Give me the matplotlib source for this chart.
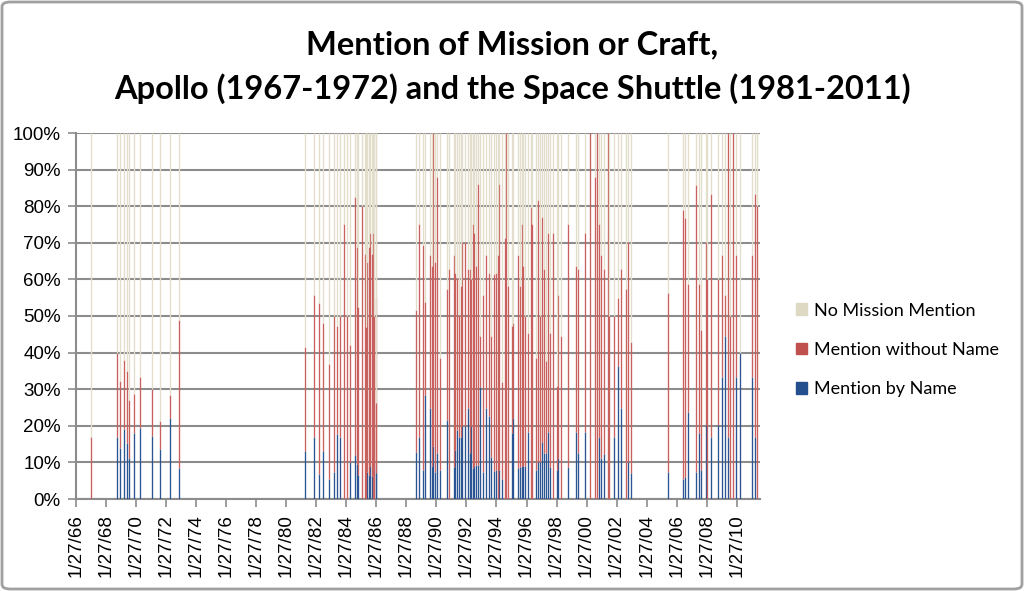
import numpy as np
import matplotlib
matplotlib.use("Agg")
import matplotlib.pyplot as plt
from matplotlib.patches import Patch, FancyBboxPatch

# fecha de cada mision (anio decimal) y porcentajes
anios = [
    1967.07, 1968.80, 1969.00, 1969.25, 1969.45, 1969.58, 1969.96, 1970.30,
    1971.15, 1971.65, 1972.33, 1972.96,
    1981.33, 1981.89, 1982.27, 1982.50, 1982.90, 1983.27, 1983.45, 1983.65,
    1983.89, 1984.09, 1984.29, 1984.65, 1984.78, 1984.85, 1985.09, 1985.29,
    1985.36, 1985.47, 1985.58, 1985.67, 1985.78, 1985.87, 1985.93, 1986.02,
    1986.07,
    1988.74, 1988.90, 1989.20, 1989.32, 1989.62, 1989.80, 1989.87, 1989.98,
    1990.10, 1990.29, 1990.78, 1990.89, 1991.22, 1991.33, 1991.45, 1991.58,
    1991.70, 1991.80, 1991.95, 1992.20, 1992.30, 1992.40, 1992.50, 1992.60,
    1992.70, 1992.85, 1992.98, 1993.20, 1993.40, 1993.55, 1993.70, 1993.90,
    1994.05, 1994.18, 1994.27, 1994.45, 1994.67, 1994.73, 1994.85, 1995.09,
    1995.18, 1995.51, 1995.67, 1995.78, 1995.87, 1995.98, 1996.15, 1996.35,
    1996.42, 1996.67, 1996.85, 1996.98, 1997.07, 1997.22, 1997.38, 1997.52,
    1997.62, 1997.85, 1998.07, 1998.18, 1998.35, 1998.85, 1999.38, 1999.48,
    1999.95, 2000.30, 2000.60, 2000.78, 2000.87, 2001.05, 2001.25, 2001.52,
    2001.58, 2001.92, 2002.14, 2002.36, 2002.70, 2002.82, 2003.00,
    2005.50, 2006.46, 2006.60, 2006.85, 2007.35, 2007.53, 2007.71, 2008.05,
    2008.10, 2008.35, 2008.80, 2009.10, 2009.28, 2009.48, 2009.62, 2009.84,
    2010.05, 2010.27, 2011.10, 2011.30, 2011.40,
]

# "Mention by Name" (%)
con_nombre = [
    0, 16.9, 14.0, 19.1, 15.2, 11.1, 17.9, 19.3,
    17.3, 13.6, 22.0, 8.4,
    13.2, 16.9, 6.8, 13.2, 5.5, 7.3, 17.8, 16.9,
    0, 0, 10.2, 12.0, 9.6, 6.6, 0, 0,
    0, 7.5, 6.6, 9.1, 6.4, 0, 0, 9.3,
    7.0,
    12.9, 16.9, 7.9, 28.4, 25.0, 9.1, 14.6, 7.5,
    12.7, 7.9, 21.6, 0, 8.7, 13.4, 18.9, 17.0,
    16.9, 20.0, 20.0, 25.0, 12.7, 20.0, 8.4, 9.1,
    9.3, 9.3, 30.7, 7.3, 25.0, 22.8, 11.4, 7.7,
    7.9, 0, 7.9, 5.6, 0, 0, 0, 17.9,
    22.0, 8.4, 8.7, 9.0, 9.0, 9.0, 18.4, 0,
    0, 7.9, 10.2, 10.2, 15.5, 12.7, 12.7, 18.4,
    8.7, 0, 7.9, 11.3, 0, 8.7, 18.4, 12.7,
    18.4, 0, 0, 0, 16.9, 11.1, 12.4, 0,
    0, 16.9, 36.4, 25.0, 0, 10.2, 7.0,
    7.5, 5.5, 6.0, 23.7, 7.5, 17.9, 7.9, 20.2,
    0, 16.9, 20.2, 33.2, 44.6, 16.9, 0, 0,
    33.2, 40.0, 33.2, 16.9, 0,
]

# tope de "Mention without Name" (nombre + sin nombre, %)
tope_mencion = [
    16.9, 39.8, 32.2, 38.0, 35.0, 27.0, 28.7, 33.3,
    30.1, 21.4, 28.4, 48.9,
    41.6, 55.7, 53.5, 48.0, 36.9, 50.0, 47.3, 50.0,
    75.1, 50.0, 42.0, 82.6, 68.9, 52.5, 80.1, 66.9,
    46.9, 64.7, 68.8, 72.8, 66.9, 72.8, 50.0, 54.8,
    26.3,
    51.6, 75.1, 69.4, 53.9, 66.8, 63.7, 100, 64.7,
    87.9, 38.6, 57.4, 62.8, 66.8, 61.8, 60.5, 50.3,
    58.3, 70.3, 70.1, 62.8, 62.8, 60.1, 75.1, 72.8,
    63.7, 86.0, 44.5, 55.7, 66.8, 61.8, 44.6, 61.5,
    61.8, 66.8, 86.0, 31.9, 71.4, 100, 58.3, 47.4,
    48.0, 66.8, 58.3, 75.1, 63.7, 50.1, 45.3, 79.9,
    75.1, 38.6, 81.7, 50.1, 77.1, 62.8, 37.7, 72.8,
    45.4, 72.8, 31.0, 55.7, 44.6, 75.1, 63.7, 62.8,
    72.8, 100, 87.9, 100, 75.1, 66.8, 62.8, 100,
    50.0, 50.0, 54.8, 62.9, 57.4, 70.1, 42.8,
    56.2, 79.0, 76.7, 58.7, 85.8, 58.7, 46.2, 70.1,
    60.1, 83.3, 60.1, 66.8, 55.7, 100, 50.0, 100,
    66.8, 40.0, 66.8, 83.3, 80.0,
]

x = np.array(anios)
azul = np.array(con_nombre) / 100
rojo_tope = np.array(tope_mencion) / 100

c_azul = '#2A5592'
c_rojo = '#C8605D'
c_beige = '#E2DECB'

fig = plt.figure(figsize=(10.24, 5.91), dpi=100)
ax = fig.add_axes([76/1024, 1 - 499/591, (760-76)/1024, (499-133)/591])

# barras apiladas de 1 px: nombre abajo, sin nombre encima, resto hasta 100 %
grosor = 0.95
ax.vlines(x, 0, azul, colors=c_azul, linewidth=grosor, zorder=3)
ax.vlines(x, azul, rojo_tope, colors=c_rojo, linewidth=grosor, zorder=3)
ax.vlines(x, rojo_tope, 1, colors=c_beige, linewidth=grosor, zorder=3)

ax.set_ylim(0, 1)
ax.set_xlim(1966.07, 2011.62)
ax.set_yticks(np.arange(0, 1.01, 0.1))
ax.set_yticklabels([f"{int(round(v*100))}%" for v in np.arange(0, 1.01, 0.1)],
                   fontsize=13.5, family='Liberation Sans')
marcas = [a + 26/365 for a in range(1966, 2011, 2)]
ax.set_xticks(marcas)
ax.set_xticklabels([f"1/27/{a % 100:02d}" for a in range(1966, 2011, 2)],
                   rotation=90, fontsize=13.5, family='Liberation Sans')
ax.tick_params(axis='both', colors='#8C8C8C', labelcolor='black', length=6, width=1.2)
ax.tick_params(axis='y', pad=5)
ax.tick_params(axis='x', pad=5)
ax.grid(axis='y', color='#8C8C8C', linewidth=1.5, zorder=0)
for lado in ['top', 'right']:
    ax.spines[lado].set_visible(False)
for lado in ['left', 'bottom']:
    ax.spines[lado].set_color('#8C8C8C')
    ax.spines[lado].set_linewidth(1.5)

fig.text(0.5, 1 - 45/591, "Mention of Mission or Craft,", ha='center', va='center',
         fontsize=23.5, fontweight='bold', family='Lato')
fig.text(0.5, 1 - 89/591, "Apollo (1967-1972) and the Space Shuttle (1981-2011)",
         ha='center', va='center', fontsize=23.5, fontweight='bold', family='Lato')

manejadores = [Patch(color='#DDD9C3', label='No Mission Mention'),
               Patch(color='#C0504D', label='Mention without Name'),
               Patch(color='#234F8E', label='Mention by Name')]
fig.legend(handles=manejadores, loc='center left', bbox_to_anchor=(780/1024, 1 - 350/591),
           frameon=False, prop={'family': 'Lato', 'size': 13}, handlelength=0.6,
           handleheight=0.6, handletextpad=0.4, labelspacing=1.3)

borde = FancyBboxPatch((2/1024, 2/591), 1 - 4/1024, 1 - 4/591,
                       boxstyle='round,pad=0,rounding_size=0.008', transform=fig.transFigure,
                       facecolor='none', edgecolor='#A0A0A0', linewidth=2)
fig.patches.append(borde)

fig.savefig('out.png', dpi=100)
